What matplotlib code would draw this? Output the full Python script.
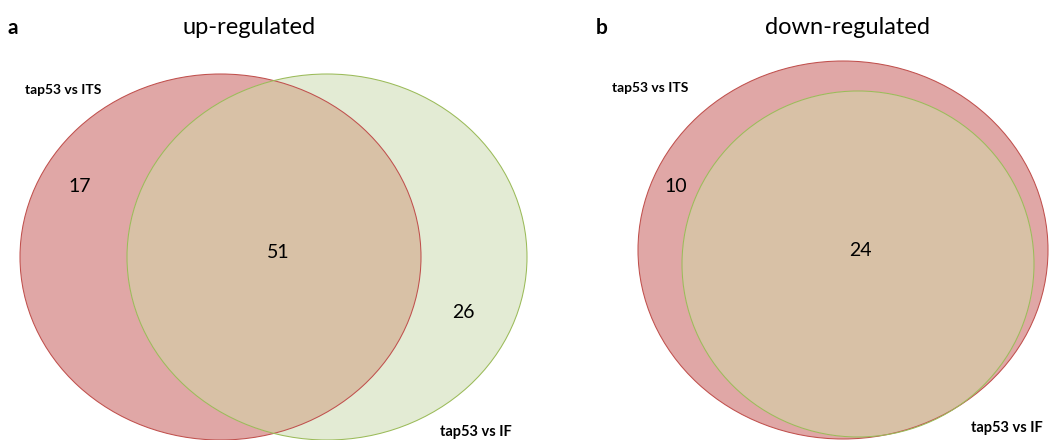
import matplotlib
matplotlib.use("Agg")
import matplotlib.pyplot as plt
from matplotlib.patches import Ellipse

plt.rcParams["font.family"] = ["Lato", "DejaVu Sans"]

# Venn counts: (only set 1, shared, only set 2)
panel_letters = ["a", "b"]
panel_titles = ["up-regulated", "down-regulated"]
set_names = ["tap53 vs ITS", "tap53 vs IF"]
up_counts = [17, 51, 26]
down_counts = [10, 24, 0]

RED_FILL = "#E0A7A6"
GREEN_FILL = "#E3EBD4"
MIX_FILL = "#D8C1A6"
RED_EDGE = "#C0504D"
GREEN_EDGE = "#9BBB59"

fig = plt.figure(figsize=(10.5, 4.4), dpi=100)
ax = fig.add_axes([0, 0, 1, 1])
ax.set_xlim(0, 1050)
ax.set_ylim(440, 0)
ax.axis("off")


def venn2(ax, red_geom, green_geom):
    (rx, ry, rw, rh), (gx, gy, gw, gh) = red_geom, green_geom
    ax.add_patch(Ellipse((rx, ry), rw, rh, facecolor=RED_FILL, edgecolor="none"))
    ax.add_patch(Ellipse((gx, gy), gw, gh, facecolor=GREEN_FILL, edgecolor="none"))
    # overlap: red ellipse clipped to the green one
    clip = Ellipse((gx, gy), gw, gh, facecolor="none", edgecolor="none")
    ax.add_patch(clip)
    mix = Ellipse((rx, ry), rw, rh, facecolor=MIX_FILL, edgecolor="none")
    ax.add_patch(mix)
    mix.set_clip_path(clip)
    ax.add_patch(Ellipse((rx, ry), rw, rh, facecolor="none",
                         edgecolor=RED_EDGE, linewidth=0.75))
    ax.add_patch(Ellipse((gx, gy), gw, gh, facecolor="none",
                         edgecolor=GREEN_EDGE, linewidth=0.75))


# a: up-regulated
venn2(ax, (220.5, 257, 401, 366), (327, 257, 400, 366))
ax.text(8, 28, panel_letters[0], fontsize=15, fontweight="bold", va="center")
ax.text(249, 27, panel_titles[0], fontsize=17, ha="center", va="center")
ax.text(25, 90, set_names[0], fontsize=10, fontweight="bold", va="center")
ax.text(440, 432, set_names[1], fontsize=10.5, fontweight="bold", va="center")
ax.text(80, 186, str(up_counts[0]), fontsize=14, ha="center", va="center")
ax.text(278, 253, str(up_counts[1]), fontsize=14, ha="center", va="center")
ax.text(463, 313, str(up_counts[2]), fontsize=14, ha="center", va="center")

# b: down-regulated (set 2 sits inside set 1)
venn2(ax, (843, 250, 410, 378), (858, 264, 352, 346))
ax.text(596, 28, panel_letters[1], fontsize=15, fontweight="bold", va="center")
ax.text(847, 27, panel_titles[1], fontsize=17, ha="center", va="center")
ax.text(612, 88, set_names[0], fontsize=10, fontweight="bold", va="center")
ax.text(971, 428, set_names[1], fontsize=10.5, fontweight="bold", va="center")
ax.text(676, 186, str(down_counts[0]), fontsize=14, ha="center", va="center")
ax.text(860, 250, str(down_counts[1]), fontsize=14, ha="center", va="center")

fig.savefig("out.png", dpi=100)
